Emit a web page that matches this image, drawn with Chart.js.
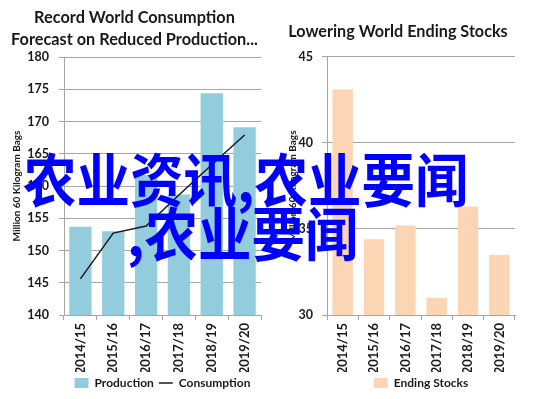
<!DOCTYPE html>
<html>
<head>
<meta charset="utf-8">
<script src="https://cdn.jsdelivr.net/npm/chart.js@4.4.0/dist/chart.umd.min.js"></script>
<style>
html, body { margin: 0; padding: 0; background: #fff; }
#wrap { position: relative; width: 537px; height: 399px; overflow: hidden; }
.box { position: absolute; top: 0; height: 399px; }
#left { left: 0; width: 268px; }
#right { left: 268px; width: 269px; }
.overlay {
    position: absolute; color: #0000ff; white-space: nowrap;
    font-family: "Noto Sans CJK SC", sans-serif; font-weight: 700;
    font-size: 53.5px; line-height: 53px;
    transform: scaleY(1.08); transform-origin: 0 50%;
}
#line1 { left: 23px; top: 150px; }
#line2 { left: 127px; top: 204px; }
</style>
</head>
<body>
<div id="wrap">
    <div class="box" id="left"><canvas id="consumptionChart" width="268" height="399"></canvas></div>
    <div class="box" id="right"><canvas id="stocksChart" width="269" height="399"></canvas></div>
    <div class="overlay" id="line1">农业资讯,农业要闻</div>
    <div class="overlay" id="line2">,农业要闻</div>
</div>
<script>
const seasons = ['2014/15', '2015/16', '2016/17', '2017/18', '2018/19', '2019/20'];
const production = [153.7, 153.0, 161.7, 158.7, 174.4, 169.1];
const consumption = [145.6, 152.7, 153.8, 158.6, 163.3, 167.9];
const endingStocks = [43.1, 34.4, 35.2, 31.0, 36.3, 33.5];

const leftTitle = ['Record World Consumption', 'Forecast on Reduced Production...'];
const rightTitle = 'Lowering World Ending Stocks';
const yAxisTitle = 'Million 60 Kilogram Bags';

const textColor = '#1a1a1a';
const gridColor = '#a6a6a6';
const fontFamily = 'Lato, "Open Sans", sans-serif';

function xScale() {
    return {
        grid: { display: true, drawOnChartArea: false, tickLength: 5, color: gridColor },
        border: { color: gridColor },
        ticks: {
            minRotation: 90, maxRotation: 90, autoSkip: false, padding: 3,
            color: textColor, font: { family: fontFamily, size: 13, weight: 'bold' }
        },
        afterFit: scale => { scale.height = 57; }
    };
}

function yScale(min, max, width, labelPadding, titlePadding) {
    return {
        min, max,
        grid: { color: gridColor, tickLength: 5 },
        border: { color: gridColor },
        ticks: {
            stepSize: 5, padding: labelPadding,
            color: textColor, font: { family: fontFamily, size: 12.5, weight: 'bold' }
        },
        title: {
            display: true, text: yAxisTitle, color: textColor,
            padding: { top: titlePadding, bottom: 0 },
            font: { family: fontFamily, size: 10, weight: 'bold' }
        },
        afterFit: scale => { scale.width = width; }
    };
}

function legendOptions() {
    return {
        position: 'bottom',
        fullSize: false,
        labels: {
            usePointStyle: true, pointStyleWidth: 14, boxHeight: 10, padding: 5,
            color: textColor, font: { family: fontFamily, size: 12, weight: 'bold' },
            sort: (a, b) => a.datasetIndex - b.datasetIndex
        }
    };
}

new Chart(document.getElementById('consumptionChart').getContext('2d'), {
    type: 'bar',
    data: {
        labels: seasons,
        datasets: [{
            label: 'Production',
            data: production,
            backgroundColor: '#93cddd',
            pointStyle: 'rect',
            barPercentage: 0.68,
            categoryPercentage: 1,
            order: 2
        }, {
            type: 'line',
            label: 'Consumption',
            data: consumption,
            borderColor: '#1a1a1a',
            backgroundColor: '#1a1a1a',
            borderWidth: 1.5,
            pointRadius: 0,
            pointStyle: 'line',
            tension: 0,
            order: 1
        }]
    },
    options: {
        responsive: false,
        animation: false,
        layout: { padding: { left: 8, right: 7, top: 0, bottom: 0 } },
        plugins: {
            title: {
                display: true, text: leftTitle, color: textColor,
                padding: { top: 7, bottom: 6 },
                font: { family: fontFamily, size: 16.3, weight: 'bold', lineHeight: 1.35 }
            },
            legend: legendOptions(),
            tooltip: { enabled: false }
        },
        scales: {
            x: xScale(),
            y: yScale(140, 180, 56, 10, 2.5)
        }
    }
});

new Chart(document.getElementById('stocksChart').getContext('2d'), {
    type: 'bar',
    data: {
        labels: seasons,
        datasets: [{
            label: 'Ending Stocks',
            data: endingStocks,
            backgroundColor: '#fcd5b5',
            pointStyle: 'rect',
            barPercentage: 0.65,
            categoryPercentage: 1
        }]
    },
    options: {
        responsive: false,
        animation: false,
        layout: { padding: { left: 13, right: 22, top: 0, bottom: 0 } },
        plugins: {
            title: {
                display: true, text: rightTitle, color: textColor,
                padding: { top: 21, bottom: 14 },
                font: { family: fontFamily, size: 16.2, weight: 'bold', lineHeight: 1.35 }
            },
            legend: legendOptions(),
            tooltip: { enabled: false }
        },
        scales: {
            x: xScale(),
            y: yScale(30, 45, 46, 9, 5.5)
        }
    }
});
</script>
</body>
</html>
